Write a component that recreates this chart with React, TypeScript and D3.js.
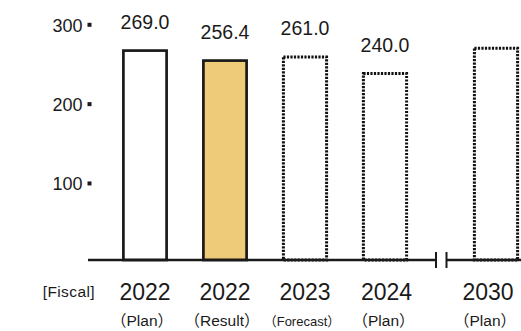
import React from "react";
import * as d3 from "d3";

const categories = ["2022P", "2022R", "2023F", "2024P", "2030P"];
const years = ["2022", "2022", "2023", "2024", "2030"];
const subLabels = ["（Plan）", "（Result）", "（Forecast）", "（Plan）", "（Plan）"];
const values = [269.0, 256.4, 261.0, 240.0, 272.0];
const valueLabels = ["269.0", "256.4", "261.0", "240.0", ""];
const barStyles = ["solid", "filled", "dotted", "dotted", "dotted"];
const yTicks = [100, 200, 300];

const W = 521;
const H = 331;
const BASE_Y = 260;
const BREAK_SHIFT = 31;
const LABEL_SHIFT = 23;
const FONT = "'Liberation Sans', Arial, sans-serif";
const CJK = "'Liberation Sans', 'Noto Sans CJK JP', sans-serif";
const INK = "#1a1a1a";

export default function App() {
  const x = d3
    .scaleBand<string>()
    .domain(categories)
    .range([105, 505])
    .paddingInner(0.425)
    .paddingOuter(0.2125);
  const y = d3.scaleLinear().domain([0, 300]).range([264, 26]);
  const bw = x.bandwidth();
  const last = categories.length - 1;
  const bx = (c: string, i: number) => (x(c) as number) + (i === last ? BREAK_SHIFT : 0);
  const lx = (c: string, i: number) =>
    (x(c) as number) + bw / 2 + (i === last ? LABEL_SHIFT : 0) + (i === 3 ? 1.5 : 0);
  const breakX1 = 436;
  const breakX2 = 446.5;

  return (
    <svg
      width={W}
      height={H}
      style={{ position: "absolute", left: 0, top: 0, background: "#fff" }}
      fontFamily={FONT}
    >
      {/* y ticks */}
      {yTicks.map((t) => (
        <g key={t}>
          <text x={82.5} y={y(t) + 1} fontSize={18} textAnchor="end" dominantBaseline="middle" fill={INK}>
            {t}
          </text>
          <rect x={87.5} y={y(t) - 3.2} width={4} height={4} fill={INK} />
        </g>
      ))}

      {/* bars */}
      {categories.map((c, i) => {
        const x0 = bx(c, i);
        const top = y(values[i]);
        const st = barStyles[i];
        const dotted = st === "dotted";
        return (
          <rect
            key={c}
            x={x0 + 1.4}
            y={top}
            width={bw - 2.8}
            height={BASE_Y - top}
            fill={st === "filled" ? "#EECB78" : "#fff"}
            stroke={dotted ? "#111" : INK}
            strokeWidth={dotted ? 3 : 2.7}
            strokeDasharray={dotted ? "2.2 1.3" : undefined}
          />
        );
      })}

      {/* value labels */}
      {categories.map((c, i) =>
        valueLabels[i] ? (
          <text
            key={"v" + c}
            x={bx(c, i) + bw / 2}
            y={y(values[i]) - 22}
            fontSize={19.5}
            textAnchor="middle"
            fill={INK}
          >
            {valueLabels[i]}
          </text>
        ) : null
      )}

      {/* axis line with break */}
      <line x1={88} x2={breakX1} y1={BASE_Y} y2={BASE_Y} stroke={INK} strokeWidth={2.5} />
      <line x1={breakX2} x2={W} y1={BASE_Y} y2={BASE_Y} stroke={INK} strokeWidth={2.5} />
      <line x1={breakX1} x2={breakX1} y1={BASE_Y - 8} y2={BASE_Y + 8} stroke={INK} strokeWidth={2} />
      <line x1={breakX2} x2={breakX2} y1={BASE_Y - 8} y2={BASE_Y + 8} stroke={INK} strokeWidth={2} />

      {/* x labels */}
      <text x={95} y={297} fontSize={15.5} textAnchor="end" fill={INK} letterSpacing={0.4}>
        [Fiscal]
      </text>
      {categories.map((c, i) => (
        <g key={"x" + c}>
          <text x={lx(c, i)} y={300} fontSize={23} textAnchor="middle" fill={INK}>
            {years[i]}
          </text>
          <text
            x={lx(c, i) - 3}
            y={326}
            fontSize={subLabels[i].length > 8 ? 13 : 15.5}
            textAnchor="middle"
            fill={INK}
            fontFamily={CJK}
          >
            {subLabels[i]}
          </text>
        </g>
      ))}
    </svg>
  );
}
